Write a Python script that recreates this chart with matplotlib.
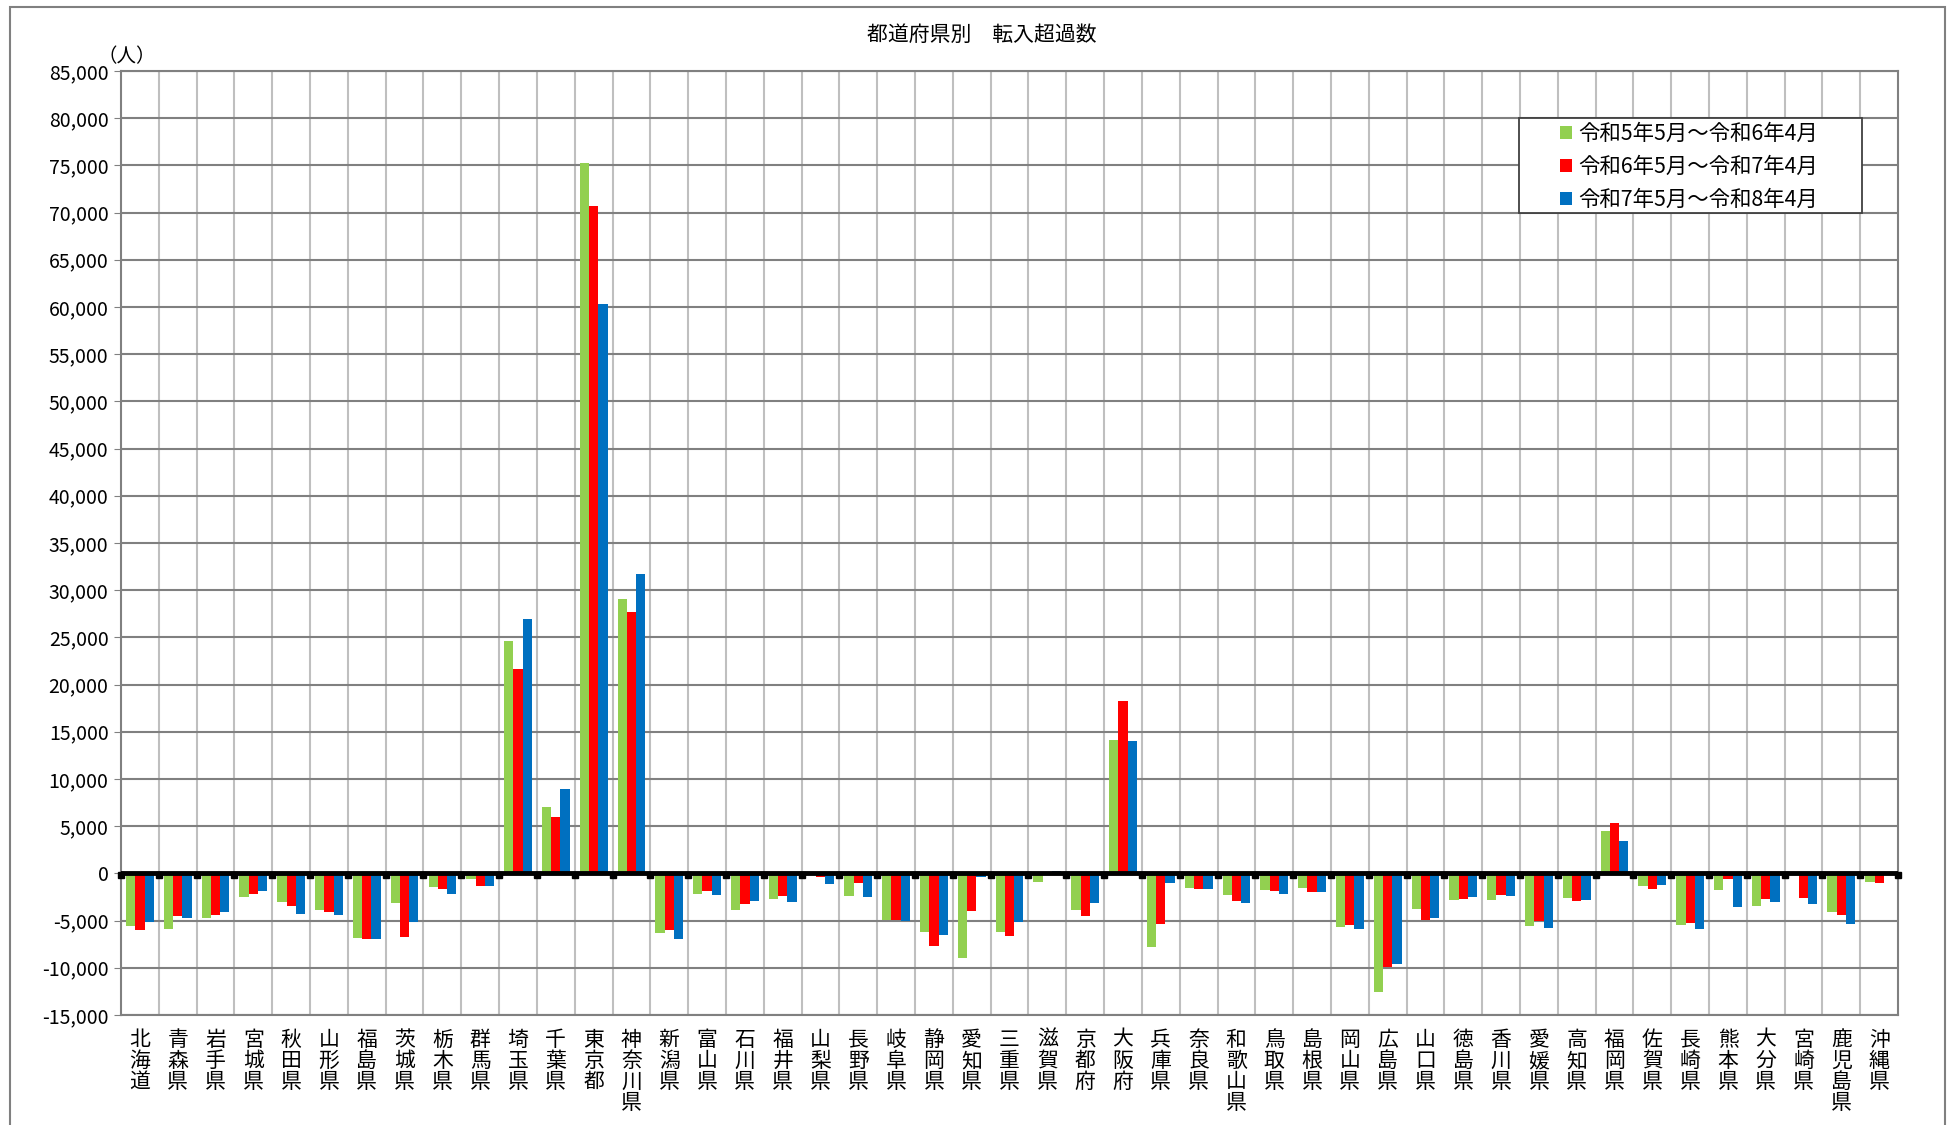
import matplotlib
matplotlib.use("Agg")
import matplotlib.pyplot as plt
import numpy as np
from matplotlib.patches import Rectangle
from matplotlib.ticker import FuncFormatter, MultipleLocator

plt.rcParams['font.family'] = ['Noto Sans CJK JP', 'DejaVu Sans']

prefectures = ["北海道", "青森県", "岩手県", "宮城県", "秋田県", "山形県", "福島県", "茨城県", "栃木県", "群馬県",
               "埼玉県", "千葉県", "東京都", "神奈川県", "新潟県", "富山県", "石川県", "福井県", "山梨県", "長野県",
               "岐阜県", "静岡県", "愛知県", "三重県", "滋賀県", "京都府", "大阪府", "兵庫県", "奈良県", "和歌山県",
               "鳥取県", "島根県", "岡山県", "広島県", "山口県", "徳島県", "香川県", "愛媛県", "高知県", "福岡県",
               "佐賀県", "長崎県", "熊本県", "大分県", "宮崎県", "鹿児島県", "沖縄県"]

series_labels = ["令和5年5月～令和6年4月", "令和6年5月～令和7年4月", "令和7年5月～令和8年4月"]

r5_r6 = [-5560, -5880, -4750, -2530, -3060, -3900, -6830, -3130, -1480, -600,
         24650, 7050, 75200, 29040, -6270, -2150, -3900, -2750, 0, -2390,
         -4930, -6200, -9010, -6200, -880, -3900, 14100, -7780, -1580, -2250,
         -1800, -1500, -5710, -12600, -3820, -2820, -2790, -5570, -2640, 4460,
         -1360, -5430, -1750, -3430, 0, -4070, -870]

r6_r7 = [-6020, -4500, -4400, -2180, -3410, -4080, -6970, -6690, -1690, -1370,
         21640, 5950, 70700, 27690, -5950, -1870, -3200, -2360, -350, -1020,
         -4960, -7740, -4010, -6650, 0, -4500, 18250, -5350, -1690, -2920,
         -1890, -1960, -5500, -9930, -4890, -2680, -2320, -5070, -2960, 5320,
         -1640, -5290, -610, -2710, -2610, -4460, -990]

r7_r8 = [-5100, -4720, -4080, -1870, -4300, -4400, -6970, -5170, -2180, -1370,
         26950, 8960, 60290, 31760, -6970, -2290, -2920, -3030, -1130, -2500,
         -5030, -6510, -420, -5100, 280, -3130, 14030, -1020, -1650, -3130,
         -2160, -1930, -5890, -9640, -4680, -2540, -2390, -5790, -2790, 3460,
         -1180, -5890, -3610, -3070, -3250, -5390, 0]

colors = ["#92D050", "#FF0000", "#0070C0"]

fig = plt.figure(figsize=(19.55, 11.25), dpi=100)
ax = fig.add_axes([0.0619, 0.0978, 0.9709 - 0.0619, 0.9369 - 0.0978])

n = len(prefectures)
x = np.arange(n)
w = 0.245
for i, (vals, c, lab) in enumerate(zip([r5_r6, r6_r7, r7_r8], colors, series_labels)):
    ax.bar(x + (i - 1) * w, vals, width=w, color=c, label=lab, zorder=3)

ax.set_xlim(-0.5, n - 0.5)
ax.set_ylim(-15000, 85000)
ax.yaxis.set_major_locator(MultipleLocator(5000))
ax.yaxis.set_major_formatter(FuncFormatter(lambda v, p: f"{int(v):,}"))
ax.tick_params(axis='y', labelsize=14, length=5, color='#808080', pad=4)

# vertical grid at category boundaries
ax.set_xticks(x[:-1] + 0.5, minor=True)
ax.grid(axis='x', which='minor', color='#BFBFBF', lw=1.5, zorder=0)
ax.grid(axis='y', which='major', color='#808080', lw=1.5, zorder=0)
ax.set_xticks(x)
ax.set_xticklabels(["\n".join(p) for p in prefectures], fontsize=15, linespacing=0.95, va='top')
ax.tick_params(axis='x', which='both', length=0, pad=10)

for s in ax.spines.values():
    s.set_color('#808080')
    s.set_linewidth(1.5)

# zero axis line with tick marks at category boundaries
ax.axhline(0, color='black', lw=3.5, zorder=5)
bounds = np.arange(n + 1) - 0.5
ax.plot(bounds, np.zeros_like(bounds) - 150, ls='none', marker='s', ms=3.8, color='black',
        zorder=6, clip_on=False)

fig.text(0.502, 0.969, "都道府県別　転入超過数", fontsize=15, ha='center', va='center')
ax.text(-0.35, 85400, "（人）", fontsize=14, ha='center', va='bottom')

# legend with its own frame
ax.add_patch(Rectangle((1519 / 1955, 1 - 213 / 1125), (1862 - 1519) / 1955, (213 - 118) / 1125,
                       transform=fig.transFigure, facecolor='white', edgecolor='#404040',
                       lw=1.3, zorder=8, clip_on=False))
leg = ax.legend(loc='center left', bbox_to_anchor=(1560 / 1955, 1 - 167 / 1125), bbox_transform=fig.transFigure,
                fontsize=15.4, frameon=False,
                handlelength=0.55, handleheight=0.55, handletextpad=0.3, labelspacing=0.5,
                borderpad=0, borderaxespad=0)
leg.set_zorder(11)

fig.patches.append(Rectangle((0.005, -0.05), 0.99, 1.044, transform=fig.transFigure,
                             fill=False, edgecolor='#808080', lw=1.5))

fig.savefig("out.png", dpi=100)
